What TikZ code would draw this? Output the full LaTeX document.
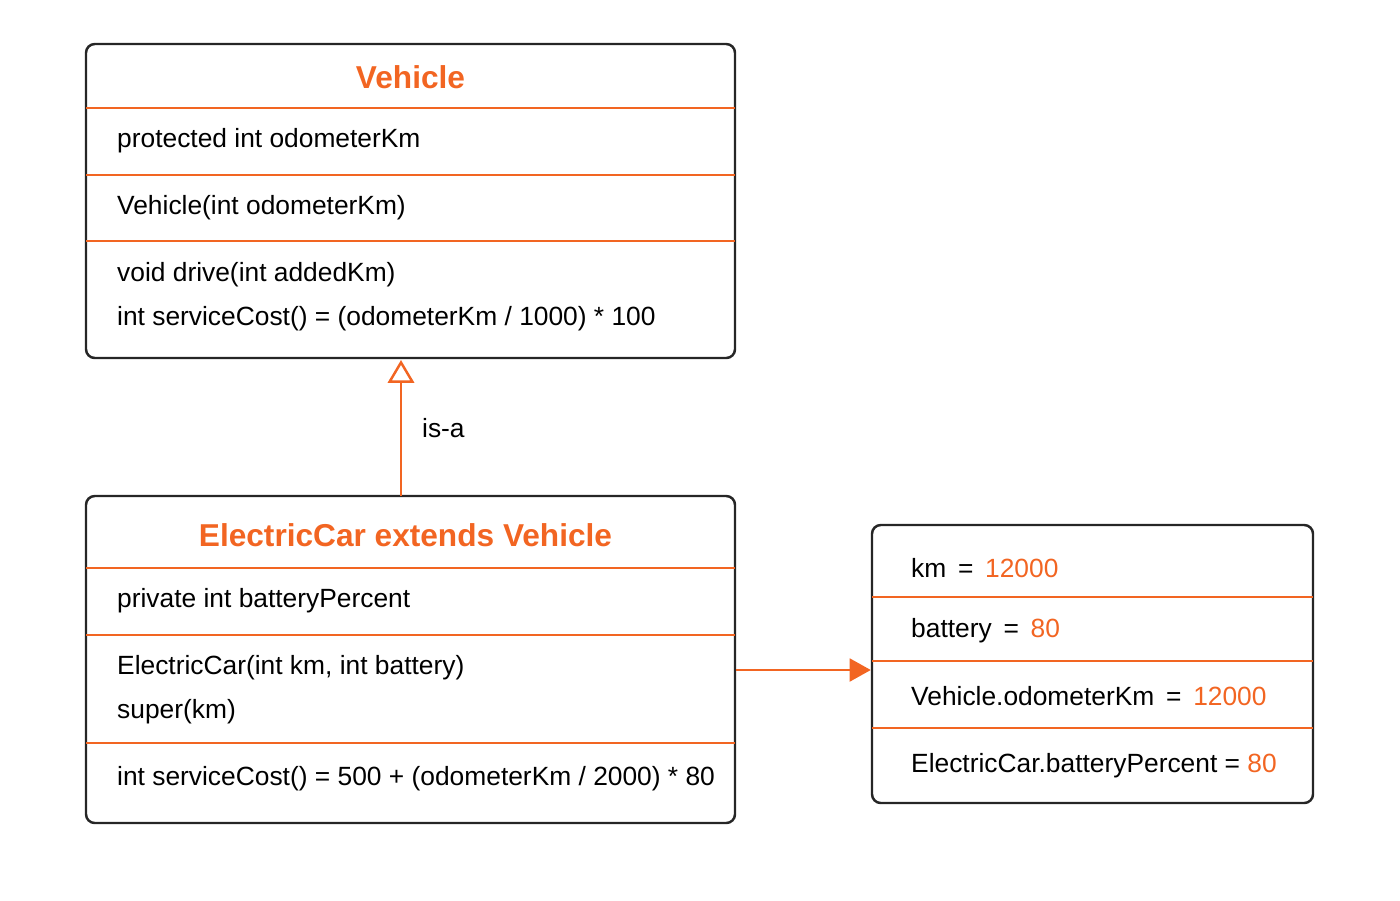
\documentclass[tikz,border=0pt]{standalone}
\usepackage{fontspec}
\setmainfont{Liberation Sans}
\usetikzlibrary{arrows.meta}
\definecolor{accent}{HTML}{F26522}
\begin{document}
\begin{tikzpicture}[
    box/.style={draw=black!85, line width=1.4pt, rounded corners=5pt, inner sep=0pt},
    sep/.style={draw=accent, line width=1.1pt},
    title/.style={text=accent, font=\fontsize{18}{20}\selectfont\bfseries},
    member/.style={anchor=west, font=\fontsize{15}{17}\selectfont},
    val/.style={text=accent}
]
    \useasboundingbox (0,0) rectangle (28,-18);

    % Vehicle class
    \node[box, minimum width=12.98cm, minimum height=6.28cm] (vehicle) at (8.21,-4.02) {};
    \node[title] (vtitle) at (8.21,-1.54) {Vehicle};
    \draw[sep] (1.72,-2.16) -- (14.70,-2.16);
    \node[member] (vfield) at (2.22,-2.82) {protected int odometerKm};
    \draw[sep] (1.72,-3.50) -- (14.70,-3.50);
    \node[member] (vctor) at (2.22,-4.16) {Vehicle(int odometerKm)};
    \draw[sep] (1.72,-4.82) -- (14.70,-4.82);
    \node[member] (vdrive) at (2.22,-5.50) {void drive(int addedKm)};
    \node[member] (vcost) at (2.22,-6.38) {int serviceCost() = (odometerKm / 1000) * 100};

    % ElectricCar class
    \node[box, minimum width=12.98cm, minimum height=6.54cm] (ecar) at (8.21,-13.19) {};
    \node[title] (etitle) at (8.11,-10.70) {ElectricCar extends Vehicle};
    \draw[sep] (1.72,-11.36) -- (14.70,-11.36);
    \node[member] (efield) at (2.22,-12.02) {private int batteryPercent};
    \draw[sep] (1.72,-12.70) -- (14.70,-12.70);
    \node[member] (ector) at (2.22,-13.36) {ElectricCar(int km, int battery)};
    \node[member] (esuper) at (2.22,-14.24) {super(km)};
    \draw[sep] (1.72,-14.86) -- (14.70,-14.86);
    \node[member] (ecost) at (2.22,-15.58) {int serviceCost() = 500 + (odometerKm / 2000) * 80};

    % object state
    \node[box, minimum width=8.82cm, minimum height=5.56cm] (state) at (21.85,-13.28) {};
    \node[member] (skm) at (18.10,-11.36) {km \,=\, \textcolor{accent}{12000}};
    \draw[sep] (17.44,-11.94) -- (26.26,-11.94);
    \node[member] (sbat) at (18.10,-12.62) {battery \,=\, \textcolor{accent}{80}};
    \draw[sep] (17.44,-13.22) -- (26.26,-13.22);
    \node[member] (sodo) at (18.10,-13.92) {Vehicle.odometerKm \,=\, \textcolor{accent}{12000}};
    \draw[sep] (17.44,-14.56) -- (26.26,-14.56);
    \node[member] (spct) at (18.10,-15.32) {ElectricCar.batteryPercent = \textcolor{accent}{80}};

    % connectors
    \coordinate (up) at (8.02,-9.92);
    \coordinate (down) at (8.02,-7.20);
    \draw[accent, line width=1.4pt, -{Triangle[open, length=13pt, width=15pt, fill=white]}] (up) -- (down)
        node[midway, right=8pt, text=black, font=\fontsize{15}{17}\selectfont] (isa) {is-a};
    \draw[accent, line width=1.4pt, -{Triangle[length=12pt, width=13pt]}] (ecar.east |- 0,-13.40) -- (state.west |- 0,-13.40);
\end{tikzpicture}
\end{document}
